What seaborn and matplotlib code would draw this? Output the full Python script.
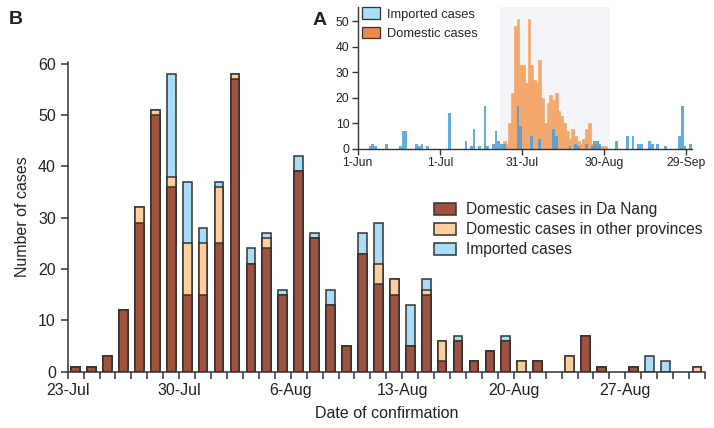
import numpy as np
import pandas as pd
import matplotlib
matplotlib.use("Agg")
import matplotlib.pyplot as plt
from matplotlib.patches import Patch
import seaborn as sns

# ---------------- data: panel B (daily cases, 23-Jul .. 31-Aug) ----------------
start_date = "2020-07-23"
danang = [1, 1, 3, 12, 29, 50, 36, 15, 15, 25, 57, 21, 24, 15, 39, 26, 13, 5, 23, 17,
          15, 5, 15, 2, 6, 2, 4, 6, 0, 2, 0, 0, 7, 1, 0, 1, 0, 0, 0, 0]
other_prov = [0, 0, 0, 0, 3, 1, 2, 10, 10, 11, 1, 0, 2, 0, 0, 0, 0, 0, 0, 4,
              3, 0, 1, 4, 0, 0, 0, 0, 2, 0, 0, 3, 0, 0, 0, 0, 0, 0, 0, 1]
imported = [0, 0, 0, 0, 0, 0, 20, 12, 3, 1, 0, 3, 1, 1, 3, 1, 3, 0, 4, 8,
            0, 8, 2, 0, 1, 0, 0, 1, 0, 0, 0, 0, 0, 0, 0, 0, 3, 2, 0, 0]
b_tick_labels = ["23-Jul", "30-Jul", "6-Aug", "13-Aug", "20-Aug", "27-Aug"]
legend_b = ["Domestic cases in Da Nang", "Domestic cases in other provinces", "Imported cases"]

# ---------------- data: panel A inset (1-Jun .. 30-Sep, day 0 = 1-Jun) ----------------
a_imp_day = [4, 5, 6, 10, 15, 16, 17, 21, 22, 23, 25, 33, 39, 41, 42, 44, 46, 47, 49, 50,
             51, 52, 53, 58, 59, 63, 66, 71, 72, 77, 79, 80, 83, 85, 86, 87, 88, 94, 98, 100,
             102, 103, 106, 107, 109, 112, 117, 118, 119, 121]
a_imp_n = [1, 2, 1, 2, 1, 7, 7, 2, 1, 2, 1, 14, 3, 1, 8, 1, 17, 1, 2, 7,
           3, 2, 2, 17, 9, 5, 4, 8, 5, 1, 2, 1, 2, 1, 3, 3, 2, 3, 5, 5,
           2, 2, 3, 2, 2, 1, 5, 17, 1, 2]
a_dom_day = list(range(53, 91))
a_dom_n = [3, 2, 10, 22, 48, 51, 33, 33, 26, 51, 33, 27, 26, 35, 20, 10, 18, 21, 19, 22,
           15, 13, 10, 7, 4, 8, 5, 3, 2, 4, 8, 10, 2, 2, 2, 1, 1, 1]
a_tick_days = [0, 30, 60, 90, 120]
a_tick_labels = ["1-Jun", "1-Jul", "31-Jul", "30-Aug", "29-Sep"]
a_shade = (52, 92)
legend_a = ["Imported cases", "Domestic cases"]

# ---------------- styling ----------------
sns.set_theme(style="ticks")
plt.rcParams["font.family"] = ["Liberation Sans", "DejaVu Sans"]
ink = "#333333"
c_dn, c_op, c_imp = "#a0523f", "#fecf9a", "#a8def7"
c_dom_a, c_imp_a = "#f5a86c", "#4a9edb"

fig = plt.figure(figsize=(7.14, 4.28), dpi=100)
ax = fig.add_axes([0.0948, 0.1315, 0.8926, 0.7235])

n = len(danang)
dates = pd.date_range(start_date, periods=n, freq="D")
df = pd.DataFrame({
    "date": dates,
    "pos": np.arange(n) + 0.5,
    "danang": danang,
    "other": other_prov,
    "imported": imported,
})
df["domestic"] = df["danang"] + df["other"]
df["total"] = df["domestic"] + df["imported"]

def nz(s):
    return s.where(s > 0, np.nan)

for col, c in [("total", c_imp), ("domestic", c_op), ("danang", c_dn)]:
    sns.barplot(x=df["pos"], y=nz(df[col]), native_scale=True, width=0.55,
                color=c, saturation=1, edgecolor=ink, linewidth=1.1,
                errorbar=None, ax=ax)

ax.set_xlim(0, n)
ax.set_ylim(0, 60.3)
ax.set_xticks(np.arange(0, n, 7))
ax.set_xticklabels(b_tick_labels)
ax.set_xticks(np.arange(0, n + 1), minor=True)
ax.set_yticks(np.arange(0, 61, 10))
ax.tick_params(axis="both", which="both", length=5, width=1.1, color=ink,
               labelsize=11.5, labelcolor="#222222")
ax.tick_params(axis="x", which="major", pad=3)
for s in ["top", "right"]:
    ax.spines[s].set_visible(False)
for s in ["left", "bottom"]:
    ax.spines[s].set_color(ink)
    ax.spines[s].set_linewidth(1.1)
ax.set_xlabel("Date of confirmation", fontsize=11.5, color="#222222", labelpad=6)
ax.set_ylabel("Number of cases", fontsize=11.5, color="#222222", labelpad=6)

handles = [Patch(facecolor=c, edgecolor=ink, linewidth=1.1) for c in (c_dn, c_op, c_imp)]
fig.legend(handles, legend_b, loc="upper left", bbox_to_anchor=(0.599, 0.542),
           frameon=False, fontsize=11.2, handlelength=1.45, handleheight=0.8,
           labelspacing=0.32, handletextpad=0.6, borderaxespad=0)

# ---------------- inset A ----------------
axa = fig.add_axes([0.501, 0.652, 0.468, 0.331])
days = np.arange(0, 122)
imp_full = np.zeros(len(days))
imp_full[a_imp_day] = a_imp_n
dom_full = np.zeros(len(days))
dom_full[a_dom_day] = a_dom_n
dfa = pd.DataFrame({"pos": days + 0.5, "imported": imp_full, "domestic": dom_full})

axa.axvspan(*a_shade, color="#f3f5f9", lw=0, zorder=0)
sns.barplot(x=dfa["pos"], y=nz(dfa["domestic"]), native_scale=True, width=1.0,
            color=c_dom_a, saturation=1, edgecolor=c_dom_a, linewidth=0.5,
            errorbar=None, ax=axa)
sns.barplot(x=dfa["pos"], y=nz(dfa["imported"]), native_scale=True, width=1.0,
            color=c_imp_a, alpha=0.85, saturation=1, edgecolor="none", linewidth=0,
            errorbar=None, ax=axa)
axa.set_xlim(0, 122)
axa.set_ylim(0, 55.5)
axa.set_xticks(a_tick_days)
axa.set_xticklabels(a_tick_labels)
axa.set_yticks(np.arange(0, 51, 10))
axa.set_xlabel("")
axa.set_ylabel("")
axa.patch.set_alpha(0)
axa.tick_params(axis="both", length=4, width=1.0, color=ink, labelsize=8.7,
                labelcolor="#222222", pad=2)
for s in ["top", "right"]:
    axa.spines[s].set_visible(False)
for s in ["left", "bottom"]:
    axa.spines[s].set_color(ink)
    axa.spines[s].set_linewidth(1.0)
ha = [Patch(facecolor=c, edgecolor=ink, linewidth=0.9) for c in ("#a8def7", "#f0884a")]
axa.legend(ha, legend_a, loc="upper left", bbox_to_anchor=(-0.004, 1.035), frameon=False,
           fontsize=9.3, handlelength=1.4, handleheight=1.0, labelspacing=0.45,
           handletextpad=0.55, borderaxespad=0)

fig.text(0.012, 0.945, "B", fontsize=14, fontweight="bold", color="#222222")
fig.text(0.438, 0.942, "A", fontsize=14, fontweight="bold", color="#222222")

fig.savefig("out.png", dpi=100)
